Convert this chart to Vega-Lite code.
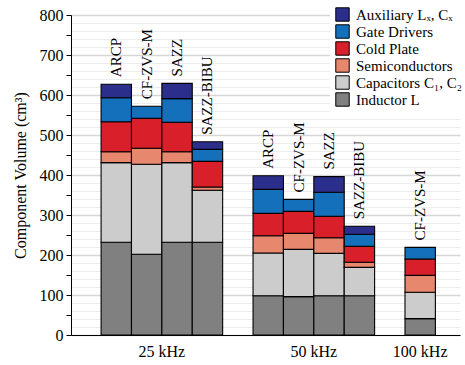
{
  "$schema": "https://vega.github.io/schema/vega-lite/v6.json",
  "width": 389,
  "height": 320,
  "autosize": "none",
  "padding": {"left": 71, "top": 15, "right": 5, "bottom": 30},
  "background": "white",
  "config": {
    "font": "Liberation Serif",
    "view": {"stroke": null},
    "axis": {"labelFont": "Liberation Serif", "titleFont": "Liberation Serif", "labelColor": "black", "titleColor": "black"},
    "legend": {"labelFont": "Liberation Serif"}
  },
  "data": {
    "values": [
      {"slot": "25|ARCP", "topology": "ARCP", "component": "Inductor L", "value": 232},
      {"slot": "25|ARCP", "topology": "ARCP", "component": "Capacitors C₁, C₂", "value": 199},
      {"slot": "25|ARCP", "topology": "ARCP", "component": "Semiconductors", "value": 27},
      {"slot": "25|ARCP", "topology": "ARCP", "component": "Cold Plate", "value": 75},
      {"slot": "25|ARCP", "topology": "ARCP", "component": "Gate Drivers", "value": 60},
      {"slot": "25|ARCP", "topology": "ARCP", "component": "Auxiliary Lₓ, Cₓ", "value": 34},
      {"slot": "25|CF-ZVS-M", "topology": "CF-ZVS-M", "component": "Inductor L", "value": 202},
      {"slot": "25|CF-ZVS-M", "topology": "CF-ZVS-M", "component": "Capacitors C₁, C₂", "value": 225},
      {"slot": "25|CF-ZVS-M", "topology": "CF-ZVS-M", "component": "Semiconductors", "value": 40},
      {"slot": "25|CF-ZVS-M", "topology": "CF-ZVS-M", "component": "Cold Plate", "value": 75},
      {"slot": "25|CF-ZVS-M", "topology": "CF-ZVS-M", "component": "Gate Drivers", "value": 30},
      {"slot": "25|SAZZ", "topology": "SAZZ", "component": "Inductor L", "value": 232},
      {"slot": "25|SAZZ", "topology": "SAZZ", "component": "Capacitors C₁, C₂", "value": 199},
      {"slot": "25|SAZZ", "topology": "SAZZ", "component": "Semiconductors", "value": 27},
      {"slot": "25|SAZZ", "topology": "SAZZ", "component": "Cold Plate", "value": 74},
      {"slot": "25|SAZZ", "topology": "SAZZ", "component": "Gate Drivers", "value": 59},
      {"slot": "25|SAZZ", "topology": "SAZZ", "component": "Auxiliary Lₓ, Cₓ", "value": 38},
      {"slot": "25|SAZZ-BIBU", "topology": "SAZZ-BIBU", "component": "Inductor L", "value": 232},
      {"slot": "25|SAZZ-BIBU", "topology": "SAZZ-BIBU", "component": "Capacitors C₁, C₂", "value": 130},
      {"slot": "25|SAZZ-BIBU", "topology": "SAZZ-BIBU", "component": "Semiconductors", "value": 8},
      {"slot": "25|SAZZ-BIBU", "topology": "SAZZ-BIBU", "component": "Cold Plate", "value": 64},
      {"slot": "25|SAZZ-BIBU", "topology": "SAZZ-BIBU", "component": "Gate Drivers", "value": 30},
      {"slot": "25|SAZZ-BIBU", "topology": "SAZZ-BIBU", "component": "Auxiliary Lₓ, Cₓ", "value": 19},
      {"slot": "50|ARCP", "topology": "ARCP", "component": "Inductor L", "value": 98},
      {"slot": "50|ARCP", "topology": "ARCP", "component": "Capacitors C₁, C₂", "value": 107},
      {"slot": "50|ARCP", "topology": "ARCP", "component": "Semiconductors", "value": 43},
      {"slot": "50|ARCP", "topology": "ARCP", "component": "Cold Plate", "value": 56},
      {"slot": "50|ARCP", "topology": "ARCP", "component": "Gate Drivers", "value": 60},
      {"slot": "50|ARCP", "topology": "ARCP", "component": "Auxiliary Lₓ, Cₓ", "value": 34},
      {"slot": "50|CF-ZVS-M", "topology": "CF-ZVS-M", "component": "Inductor L", "value": 96},
      {"slot": "50|CF-ZVS-M", "topology": "CF-ZVS-M", "component": "Capacitors C₁, C₂", "value": 118},
      {"slot": "50|CF-ZVS-M", "topology": "CF-ZVS-M", "component": "Semiconductors", "value": 40},
      {"slot": "50|CF-ZVS-M", "topology": "CF-ZVS-M", "component": "Cold Plate", "value": 55},
      {"slot": "50|CF-ZVS-M", "topology": "CF-ZVS-M", "component": "Gate Drivers", "value": 30},
      {"slot": "50|SAZZ", "topology": "SAZZ", "component": "Inductor L", "value": 98},
      {"slot": "50|SAZZ", "topology": "SAZZ", "component": "Capacitors C₁, C₂", "value": 106},
      {"slot": "50|SAZZ", "topology": "SAZZ", "component": "Semiconductors", "value": 39},
      {"slot": "50|SAZZ", "topology": "SAZZ", "component": "Cold Plate", "value": 54},
      {"slot": "50|SAZZ", "topology": "SAZZ", "component": "Gate Drivers", "value": 60},
      {"slot": "50|SAZZ", "topology": "SAZZ", "component": "Auxiliary Lₓ, Cₓ", "value": 39},
      {"slot": "50|SAZZ-BIBU", "topology": "SAZZ-BIBU", "component": "Inductor L", "value": 98},
      {"slot": "50|SAZZ-BIBU", "topology": "SAZZ-BIBU", "component": "Capacitors C₁, C₂", "value": 71},
      {"slot": "50|SAZZ-BIBU", "topology": "SAZZ-BIBU", "component": "Semiconductors", "value": 13},
      {"slot": "50|SAZZ-BIBU", "topology": "SAZZ-BIBU", "component": "Cold Plate", "value": 40},
      {"slot": "50|SAZZ-BIBU", "topology": "SAZZ-BIBU", "component": "Gate Drivers", "value": 30},
      {"slot": "50|SAZZ-BIBU", "topology": "SAZZ-BIBU", "component": "Auxiliary Lₓ, Cₓ", "value": 20},
      {"slot": "100|CF-ZVS-M", "topology": "CF-ZVS-M", "component": "Inductor L", "value": 41},
      {"slot": "100|CF-ZVS-M", "topology": "CF-ZVS-M", "component": "Capacitors C₁, C₂", "value": 66},
      {"slot": "100|CF-ZVS-M", "topology": "CF-ZVS-M", "component": "Semiconductors", "value": 42},
      {"slot": "100|CF-ZVS-M", "topology": "CF-ZVS-M", "component": "Cold Plate", "value": 41},
      {"slot": "100|CF-ZVS-M", "topology": "CF-ZVS-M", "component": "Gate Drivers", "value": 29}
    ]
  },
  "transform": [
    {"calculate": "indexof(['Inductor L', 'Capacitors C₁, C₂', 'Semiconductors', 'Cold Plate', 'Gate Drivers', 'Auxiliary Lₓ, Cₓ'], datum.component)", "as": "stackOrder"}
  ],
  "resolve": {"axis": {"y": "independent"}},
  "encoding": {
    "x": {
      "field": "slot",
      "type": "nominal",
      "scale": {
        "domain": ["25|ARCP", "25|CF-ZVS-M", "25|SAZZ", "25|SAZZ-BIBU", "gap1", "50|ARCP", "50|CF-ZVS-M", "50|SAZZ", "50|SAZZ-BIBU", "gap2", "100|CF-ZVS-M"],
        "paddingInner": 0,
        "paddingOuter": 0.9,
        "align": 0.55
      },
      "axis": {
        "title": null,
        "ticks": false,
        "grid": false,
        "domainColor": "black",
        "domainWidth": 1,
        "labelAngle": 0,
        "labelFontSize": 16,
        "labelPadding": 8,
        "labelExpr": "datum.value === '25|CF-ZVS-M' ? '25 kHz' : datum.value === '50|CF-ZVS-M' ? '50 kHz' : datum.value === '100|CF-ZVS-M' ? '100 kHz' : ''",
        "labelOffset": {"condition": {"test": "datum.value === '100|CF-ZVS-M'", "value": 0}, "value": 15.2}
      }
    }
  },
  "layer": [
    {
      "mark": {"type": "bar", "stroke": "black", "strokeWidth": 1.1},
      "encoding": {
        "y": {
          "field": "value",
          "type": "quantitative",
          "stack": "zero",
          "scale": {"domain": [0, 800], "nice": false},
          "axis": {
            "title": "Component Volume (cm³)",
            "titleFontSize": 16,
            "titleFontWeight": "normal",
            "titlePadding": 11,
            "labelFontSize": 16,
            "labelPadding": 3,
            "labelOverlap": false,
            "domainColor": "black",
            "grid": true,
            "values": [0,20,40,50,60,80,100,120,140,150,160,180,200,220,240,250,260,280,300,320,340,350,360,380,400,420,440,450,460,480,500,520,540,550,560,580,600,620,640,650,660,680,700,720,740,750,760,780,800],
            "labelExpr": "datum.value % 100 === 0 ? datum.label : ''",
            "tickColor": {"condition": {"test": "datum.value % 50 === 0", "value": "black"}, "value": "transparent"},
            "tickSize": 5,
            "gridColor": {"condition": [{"test": "datum.value % 100 === 0", "value": "#d6d6d6"}, {"test": "datum.value % 20 === 0", "value": "#ededed"}], "value": "transparent"},
            "gridWidth": {"condition": {"test": "datum.value % 100 === 0", "value": 1.5}, "value": 1}
          }
        },
        "color": {
          "field": "component",
          "type": "nominal",
          "scale": {
            "domain": ["Inductor L", "Capacitors C₁, C₂", "Semiconductors", "Cold Plate", "Gate Drivers", "Auxiliary Lₓ, Cₓ"],
            "range": ["#808080", "#cccccc", "#e6876e", "#d81f2a", "#1570bb", "#2c2e8c"]
          },
          "legend": {
            "title": null,
            "values": ["Auxiliary Lₓ, Cₓ", "Gate Drivers", "Cold Plate", "Semiconductors", "Capacitors C₁, C₂", "Inductor L"],
            "orient": "none",
            "legendX": 259,
            "legendY": -13,
            "padding": 5,
            "fillColor": "white",
            "symbolType": "square",
            "symbolSize": 180,
            "symbolStrokeColor": "black",
            "symbolStrokeWidth": 1,
            "symbolOpacity": 1,
            "labelFontSize": 15,
            "labelColor": "black",
            "labelOffset": 6,
            "rowPadding": -2
          }
        },
        "order": {"field": "stackOrder", "type": "quantitative"}
      }
    },
    {
      "mark": {"type": "text", "angle": 270, "align": "left", "baseline": "middle", "dx": 7, "fontSize": 15, "font": "Liberation Serif", "color": "black"},
      "encoding": {
        "y": {"aggregate": "sum", "field": "value", "type": "quantitative", "axis": null},
        "text": {"field": "topology", "type": "nominal"}
      }
    }
  ]
}
